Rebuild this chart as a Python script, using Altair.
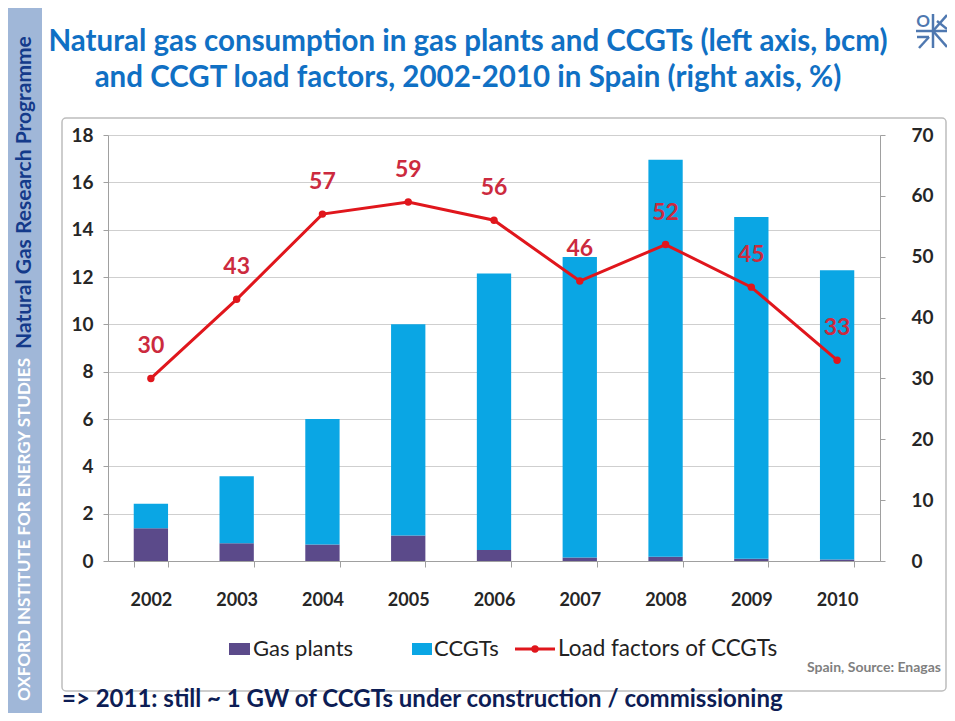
import altair as alt
import pandas as pd

# ---------------- data ----------------
years = ["2002", "2003", "2004", "2005", "2006", "2007", "2008", "2009", "2010"]
gas_plants = [1.38, 0.75, 0.70, 1.08, 0.47, 0.15, 0.18, 0.10, 0.06]
ccgts = [1.04, 2.83, 5.30, 8.92, 11.68, 12.69, 16.77, 14.43, 12.23]
load_factors = [30, 43, 57, 59, 56, 46, 52, 45, 33]
series_names = ["Gas plants", "CCGTs"]
series_colors = ["#5b4a8a", "#0aa6e4"]
left_ticks = list(range(0, 19, 2))
right_ticks = list(range(0, 71, 10))

title_lines = [
    "Natural gas consumption in gas plants and CCGTs (left axis, bcm)",
    "and CCGT load factors, 2002-2010 in Spain (right axis, %)",
]
side_text_1 = "OXFORD INSTITUTE FOR ENERGY STUDIES"
side_text_2 = "Natural Gas Research Programme"
legend_labels = ["Gas plants", "CCGTs", "Load factors of CCGTs"]
source_text = "Spain, Source: Enagas"
footnote = "=> 2011: still ~ 1 GW of CCGTs under construction / commissioning"

RED = "#e0161c"
LABEL_RED = "#cc2a3e"
LOGO = "#4f78b0"
FONT = "Lato"

W, H = 772, 426

rows = []
for i, yr in enumerate(years):
    rows.append({"year": yr, "series": series_names[0], "value": gas_plants[i], "order": 0})
    rows.append({"year": yr, "series": series_names[1], "value": ccgts[i], "order": 1})
bars_df = pd.DataFrame(rows)
line_df = pd.DataFrame({"year": years, "lf": load_factors})
one = pd.DataFrame({"k": [0]})

x_enc = alt.X(
    "year:N",
    scale=alt.Scale(domain=years, paddingInner=0.6, paddingOuter=0.3),
    axis=alt.Axis(
        title=None, labelAngle=0, tickBand="extent", labelFontSize=18,
        labelFont=FONT, labelFontWeight="bold", labelColor="#262626",
        labelPadding=24, tickSize=6, tickColor="#a0a0a0",
        domainColor="#a0a0a0", grid=False,
    ),
)

bars = alt.Chart(bars_df).mark_bar().encode(
    x=x_enc,
    y=alt.Y(
        "value:Q", stack="zero", scale=alt.Scale(domain=[0, 18], nice=False),
        axis=alt.Axis(
            values=left_ticks, title=None, grid=True, gridColor="#cfcfcf",
            labelFontSize=19, labelFont=FONT, labelFontWeight="bold",
            labelColor="#262626", labelPadding=10, tickSize=5,
            tickColor="#a0a0a0", domainColor="#a0a0a0",
        ),
    ),
    color=alt.Color("series:N", scale=alt.Scale(domain=series_names, range=series_colors), legend=None),
    order=alt.Order("order:Q", sort="ascending"),
)

y_right = alt.Y(
    "lf:Q", scale=alt.Scale(domain=[0, 70], nice=False),
    axis=alt.Axis(
        orient="right", values=right_ticks, title=None, grid=False,
        labelFontSize=19, labelFont=FONT, labelFontWeight="bold",
        labelColor="#262626", labelPadding=26, tickSize=5,
        tickColor="#a0a0a0", domainColor="#a0a0a0",
    ),
)

line = alt.Chart(line_df).mark_line(
    color=RED, strokeWidth=3,
    point=alt.OverlayMarkDef(color=RED, filled=True, size=55),
).encode(x=x_enc, y=y_right)

labels = alt.Chart(line_df).mark_text(
    dy=-32, fontSize=23, font=FONT, fontWeight="bold", color=LABEL_RED
).encode(x=x_enc, y=y_right, text="lf:Q")

line_layer = alt.layer(line, labels)

# -------------- decorations --------------
def deco_text(txt, x, y, size, color, weight="bold", align="left", angle=0):
    kw = dict(text=txt, fontSize=size, font=FONT, fontWeight=weight, color=color,
              align=align, baseline="middle")
    if angle:
        kw["angle"] = angle
    return alt.Chart(one).mark_text(**kw).encode(x=alt.value(x), y=alt.value(y))

def seg(x1, y1, x2, y2, color=LOGO, w=2.5):
    return alt.Chart(one).mark_rule(color=color, strokeWidth=w).encode(
        x=alt.value(x1), y=alt.value(y1), x2=alt.value(x2), y2=alt.value(y2))

frame = alt.Chart(one).mark_rect(
    fill="white", fillOpacity=0, stroke="#bdbdbd", strokeWidth=1.5, cornerRadius=4
).encode(x=alt.value(-46), x2=alt.value(838), y=alt.value(-17), y2=alt.value(556))

sidebar = alt.Chart(one).mark_rect(fill="#a0b7d8").encode(
    x=alt.value(-100), x2=alt.value(-66), y=alt.value(-130), y2=alt.value(580)
)

side1 = deco_text(side_text_1, -83, 566, 17, "white", angle=270)
side2 = deco_text(side_text_2, -83, 214, 21, "#143a8a", angle=270)

t1 = deco_text(title_lines[0], 360, -93, 29.5, "#1070c4", align="center")
t2 = deco_text(title_lines[1], 360, -57, 29.5, "#1070c4", align="center")

# small logo approximation (top right)
lx, ly = 807, -122
logo = [
    deco_text("O", lx + 8, ly + 9, 17, LOGO, align="center"),
    seg(lx + 1, ly + 18, lx + 33, ly + 18),
    seg(lx + 18, ly + 1, lx + 18, ly + 35),
    seg(lx + 18, ly + 18, lx + 32, ly + 2),
    seg(lx + 22, ly + 8, lx + 32, ly + 16),
    seg(lx + 18, ly + 18, lx + 32, ly + 34),
    seg(lx + 2, ly + 24, lx + 14, ly + 24),
    seg(lx + 14, ly + 24, lx + 4, ly + 35),
]

leg_y = 514
leg_rect1 = alt.Chart(one).mark_rect(color=series_colors[0]).encode(
    x=alt.value(121), x2=alt.value(142), y=alt.value(leg_y - 6), y2=alt.value(leg_y + 6))
leg_rect2 = alt.Chart(one).mark_rect(color=series_colors[1]).encode(
    x=alt.value(304), x2=alt.value(324), y=alt.value(leg_y - 6), y2=alt.value(leg_y + 6))
leg_line = alt.Chart(one).mark_rule(color=RED, strokeWidth=3).encode(
    x=alt.value(407), x2=alt.value(447), y=alt.value(leg_y))
leg_pt = alt.Chart(one).mark_point(color=RED, filled=True, size=55, opacity=1).encode(
    x=alt.value(427), y=alt.value(leg_y))
leg_t1 = deco_text(legend_labels[0], 145, leg_y, 22, "#222222", weight="normal")
leg_t2 = deco_text(legend_labels[1], 326, leg_y, 22, "#222222", weight="normal")
leg_t3 = deco_text(legend_labels[2], 450, leg_y, 22.5, "#222222", weight="normal")

src = deco_text(source_text, 833, 533, 14, "#7f7f7f", align="right")
foot = deco_text(footnote, -46, 565, 24, "#0d1d55")

chart = alt.layer(
    sidebar, frame, bars, line_layer,
    side1, side2, t1, t2, *logo,
    leg_rect1, leg_rect2, leg_line, leg_pt, leg_t1, leg_t2, leg_t3,
    src, foot,
).resolve_scale(y="independent").properties(
    width=W, height=H,
    padding={"left": 100, "top": 127, "right": 67, "bottom": 152},
    autosize=alt.AutoSizeParams(type="none"),
    background="white",
).configure_view(stroke=None)

chart.save("out.html", embed_options={"renderer": "svg", "actions": False})
